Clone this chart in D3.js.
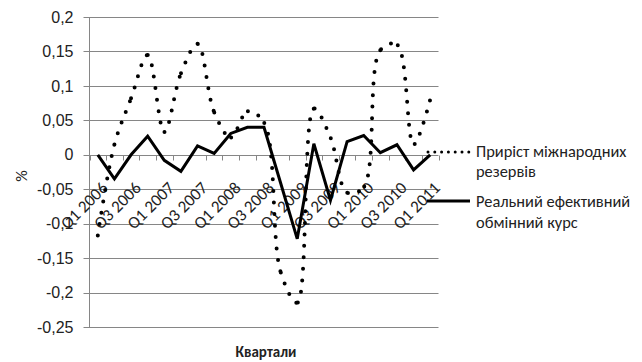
<!DOCTYPE html>
<html>
<head>
<meta charset="utf-8">
<script src="https://cdn.jsdelivr.net/npm/d3@7"></script>
<style>
  html, body { margin: 0; padding: 0; background: #fff; }
  svg { display: block; font-family: Carlito, "Open Sans", "Noto Sans", sans-serif; }
</style>
</head>
<body>
<svg id="chart" width="642" height="362"></svg>
<script>
// Quarters on the horizontal axis
const quarters = [
  "Q1 2006", "Q2 2006", "Q3 2006", "Q4 2006",
  "Q1 2007", "Q2 2007", "Q3 2007", "Q4 2007",
  "Q1 2008", "Q2 2008", "Q3 2008", "Q4 2008",
  "Q1 2009", "Q2 2009", "Q3 2009", "Q4 2009",
  "Q1 2010", "Q2 2010", "Q3 2010", "Q4 2010",
  "Q1 2011"
];

// Growth of international reserves, share
const reservesGrowth = [
  -0.117, 0.015, 0.082, 0.145,
  0.033, 0.118, 0.161, 0.062,
  0.025, 0.063, 0.047, -0.17,
  -0.215, 0.067, 0.025, -0.055,
  -0.047, 0.152, 0.16, 0.015,
  0.08
];

// Real effective exchange rate, change
const realExchangeRate = [
  0, -0.035, 0.0, 0.027,
  -0.008, -0.024, 0.013, 0.002,
  0.031, 0.04, 0.04, -0.041,
  -0.122, 0.016, -0.066, 0.019,
  0.028, 0.003, 0.0145, -0.022,
  0
];

const yTicks = [-0.25, -0.2, -0.15, -0.1, -0.05, 0, 0.05, 0.1, 0.15, 0.2];

const legendReserves = ["Приріст міжнародних", "резервів"];
const legendRate = ["Реальний ефективний", "обмінний курс"];
const yTitle = "%";
const xTitle = "Квартали";

const svg = d3.select("#chart");
const plot = { left: 89.5, right: 438.5, top: 17, bottom: 327 };

const x = d3.scaleBand().domain(quarters).range([plot.left, plot.right]);
const bw = x.bandwidth();
const cx = q => x(q) + bw / 2;
const y = d3.scaleLinear().domain([-0.25, 0.2]).range([plot.bottom, plot.top]);
const crisp = v => Math.round(v) + 0.5;

const uaLocale = d3.formatLocale({ decimal: ",", thousands: " ", grouping: [3], currency: ["", ""], minus: "-" });
const fmt = uaLocale.format("~g");

// Horizontal gridlines
const grid = svg.append("g");
grid.selectAll("line").data(yTicks).join("line")
  .attr("x1", plot.left - 6).attr("x2", plot.right)
  .attr("y1", d => crisp(y(d))).attr("y2", d => crisp(y(d)))
  .attr("stroke", "#868686").attr("stroke-width", 1);

// Vertical axis
const yAxis = d3.axisLeft(y).tickValues(yTicks).tickFormat(fmt).tickSize(0).tickPadding(16);
const yg = svg.append("g").attr("transform", `translate(${plot.left},0)`).call(yAxis);
yg.select(".domain").remove();
yg.selectAll("text").attr("font-size", 16).attr("fill", "#222").attr("font-family", null);
svg.append("line")
  .attr("x1", plot.left).attr("x2", plot.left)
  .attr("y1", plot.top).attr("y2", plot.bottom)
  .attr("stroke", "#868686");

// Category tick marks on the zero line
const zeroY = crisp(y(0));
const bounds = d3.range(quarters.length + 1).map(k => plot.left + k * bw);
svg.append("g").selectAll("line").data(bounds).join("line")
  .attr("x1", d => Math.round(d) + 0.5).attr("x2", d => Math.round(d) + 0.5)
  .attr("y1", zeroY).attr("y2", zeroY + 5)
  .attr("stroke", "#868686");

// Rotated quarter labels (every other quarter)
svg.append("g").selectAll("text")
  .data(quarters.filter((q, i) => i % 2 === 0))
  .join("text")
  .attr("transform", d => `translate(${cx(d) + 11},${zeroY + 33.5}) rotate(-45)`)
  .attr("text-anchor", "end")
  .attr("font-size", 17)
  .attr("fill", "#222")
  .text(d => d);

// Real effective exchange rate: straight solid line
const straight = d3.line().x((d, i) => cx(quarters[i])).y(d => y(d));
svg.append("path").datum(realExchangeRate)
  .attr("d", straight)
  .attr("fill", "none").attr("stroke", "#000")
  .attr("stroke-width", 3).attr("stroke-linejoin", "miter");

// Reserves growth: smoothed round-dot line, dot pattern restarting at each quarter
const smooth = d3.line().x((d, i) => cx(quarters[i])).y(d => y(d)).curve(d3.curveCatmullRom.alpha(0.5));
const dotted = svg.append("path").datum(reservesGrowth)
  .attr("d", smooth)
  .attr("fill", "none").attr("stroke", "#000")
  .attr("stroke-width", 4).attr("stroke-linecap", "round");
const node = dotted.node();
const total = node.getTotalLength();
function lengthAtX(px) {
  let lo = 0, hi = total;
  for (let k = 0; k < 40; k++) {
    const mid = (lo + hi) / 2;
    if (node.getPointAtLength(mid).x < px) lo = mid; else hi = mid;
  }
  return (lo + hi) / 2;
}
const marks = quarters.map((q, i) => i === 0 ? 0 : (i === quarters.length - 1 ? total : lengthAtX(cx(q))));
const gap = 11.5;
const dash = [];
for (let i = 0; i < marks.length - 1; i++) {
  const L = marks[i + 1] - marks[i];
  const n = Math.floor((L - 1e-6) / gap) + 1;
  for (let k = 0; k < n - 1; k++) dash.push(0, gap);
  dash.push(0, L - (n - 1) * gap);
}
dash.push(0, 1000);
dotted.attr("stroke-dasharray", dash.map(v => v.toFixed(3)).join(" "));

// Axis titles
svg.append("text")
  .attr("transform", `translate(27,${(plot.top + plot.bottom) / 2 + 4}) rotate(-90)`)
  .attr("text-anchor", "middle")
  .attr("font-size", 16).attr("fill", "#222")
  .text(yTitle);
svg.append("text")
  .attr("x", 266).attr("y", 357)
  .attr("text-anchor", "middle")
  .attr("font-size", 15).attr("font-weight", "bold").attr("fill", "#222")
  .text(xTitle);

// Legend
const legend = svg.append("g");
legend.append("line")
  .attr("x1", 428).attr("x2", 469).attr("y1", 152).attr("y2", 152)
  .attr("stroke", "#000").attr("stroke-width", 3)
  .attr("stroke-linecap", "round").attr("stroke-dasharray", "0 6.8");
legend.append("text")
  .attr("x", 476).attr("y", 157).attr("font-size", 16.4).attr("fill", "#222")
  .selectAll("tspan").data(legendReserves).join("tspan")
  .attr("x", 476).attr("dy", (d, i) => i === 0 ? 0 : 20).text(d => d);
legend.append("line")
  .attr("x1", 427).attr("x2", 470).attr("y1", 201).attr("y2", 201)
  .attr("stroke", "#000").attr("stroke-width", 3);
legend.append("text")
  .attr("x", 476).attr("y", 207).attr("font-size", 16.4).attr("fill", "#222")
  .selectAll("tspan").data(legendRate).join("tspan")
  .attr("x", 476).attr("dy", (d, i) => i === 0 ? 0 : 21).text(d => d);
</script>
</body>
</html>
